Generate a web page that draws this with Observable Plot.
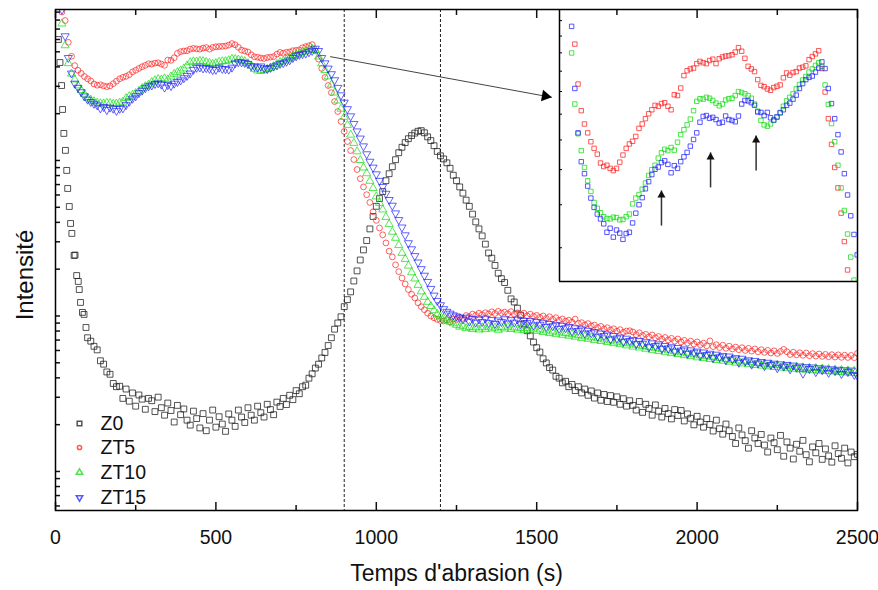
<!DOCTYPE html>
<html><head><meta charset="utf-8">
<script src="https://cdn.jsdelivr.net/npm/d3@7"></script>
<script src="https://cdn.jsdelivr.net/npm/@observablehq/plot@0.6"></script>
<style>
body{margin:0;background:#fff;}
#wrap{position:relative;width:878px;height:590px;}
#inset{position:absolute;left:559px;top:9px;width:298px;height:272px;}
</style></head><body><div id="wrap"><div id="main"></div><div id="inset"></div></div>
<script>
// ---------- data (log10 of intensity) ----------
const seriesNames = ["Z0", "ZT5", "ZT10", "ZT15"];
const seriesColors = ["#1a1a1a", "#ff2020", "#10dd10", "#2020ff"];
const seriesSymbols = ["square", "circle", "triangle", "triangle"];
const seriesRotate = [0, 0, 0, 180];

const tGridZT = d3.range(20, 2501, 10);   // sampling times (s)
const tGridZ0 = d3.range(100, 2501, 10);

const z0EarlyT = [9, 14, 19, 22, 26, 31, 35, 38, 43, 47, 51, 58, 61, 66, 71, 74, 78, 84, 89, 95];
const z0EarlyLogI = [3.778, 3.630, 3.482, 3.328, 3.174, 3.065, 2.936, 2.820, 2.704, 2.595, 2.531, 2.389, 2.392, 2.260, 2.222, 2.170, 2.087, 2.023, 2.010, 1.926];

const z0LogI = [
1.860,1.838,1.805,1.782,1.712,1.690,1.640,1.625,1.566,1.545,
1.548,1.470,1.530,1.452,1.505,1.420,1.492,1.465,1.400,1.470,
1.455,1.385,1.478,1.410,1.362,1.440,1.392,1.318,1.425,1.365,
1.402,1.330,1.298,1.388,1.340,1.280,1.372,1.262,1.330,1.395,
1.285,1.352,1.305,1.258,1.370,1.330,1.290,1.395,1.350,1.315,
1.410,1.362,1.330,1.420,1.378,1.350,1.432,1.398,1.365,1.446,
1.418,1.470,1.430,1.490,1.462,1.520,1.500,1.545,1.555,1.600,
1.628,1.665,1.690,1.730,1.765,1.810,1.860,1.915,1.955,1.995,
2.060,2.105,2.155,2.225,2.290,2.360,2.425,2.485,2.560,2.640,
2.705,2.755,2.800,2.870,2.915,2.960,3.005,3.050,3.085,3.115,
3.140,3.160,3.176,3.188,3.192,3.178,3.152,3.128,3.095,3.058,
3.030,3.010,2.985,2.950,2.905,2.870,2.830,2.790,2.745,2.705,
2.655,2.605,2.560,2.515,2.462,2.405,2.372,2.325,2.275,2.240,
2.215,2.165,2.110,2.090,2.050,2.005,1.950,1.905,1.872,1.832,
1.796,1.768,1.725,1.698,1.668,1.652,1.612,1.600,1.570,1.580,
1.545,1.560,1.520,1.545,1.505,1.530,1.490,1.518,1.472,1.505,
1.458,1.495,1.450,1.488,1.445,1.480,1.432,1.468,1.420,1.455,
1.425,1.395,1.450,1.380,1.432,1.405,1.362,1.428,1.388,1.350,
1.405,1.372,1.338,1.398,1.360,1.392,1.325,1.370,1.342,1.300,
1.355,1.318,1.285,1.340,1.302,1.260,1.330,1.275,1.240,1.305,
1.262,1.225,1.180,1.280,1.235,1.198,1.150,1.262,1.215,1.180,
1.238,1.170,1.125,1.215,1.185,1.140,1.232,1.098,1.190,1.150,
1.080,1.175,1.130,1.200,1.108,1.062,1.158,1.120,1.180,1.078,
1.145,1.100,1.060,1.165,1.115,1.085,1.150,1.055,1.125,1.095,
1.110];

const zt5LogI = [
3.955,3.900,3.760,3.670,3.610,3.580,3.560,3.540,3.525,3.512,
3.492,3.484,3.487,3.480,3.475,3.480,3.494,3.510,3.525,3.535,
3.541,3.552,3.570,3.580,3.592,3.603,3.612,3.622,3.620,3.626,
3.628,3.620,3.612,3.646,3.644,3.661,3.689,3.700,3.704,3.706,
3.716,3.721,3.718,3.716,3.723,3.726,3.716,3.727,3.731,3.733,
3.734,3.736,3.742,3.752,3.744,3.728,3.710,3.704,3.698,3.680,
3.667,3.664,3.659,3.656,3.662,3.665,3.668,3.684,3.695,3.690,
3.696,3.698,3.706,3.708,3.711,3.725,3.732,3.738,3.745,3.705,
3.652,3.592,3.534,3.482,3.436,3.379,3.315,3.251,3.187,3.122,
3.064,3.006,2.942,2.883,2.830,2.780,2.730,2.670,2.615,2.566,
2.522,2.470,2.417,2.380,2.329,2.285,2.244,2.206,2.170,2.140,
2.116,2.085,2.060,2.040,2.018,2.000,1.988,1.978,1.971,1.968,
1.975,1.962,1.981,1.978,1.992,1.985,2.003,1.996,2.012,2.004,
2.018,2.008,2.021,2.013,2.027,2.016,2.030,2.019,2.025,2.014,
2.028,2.011,2.020,2.006,2.018,2.001,2.012,1.998,2.004,1.991,
2.000,1.984,1.995,1.978,1.989,1.972,1.981,1.967,1.973,1.960,
1.980,1.952,1.957,1.942,1.951,1.936,1.942,1.925,1.933,1.916,
1.925,1.910,1.918,1.902,1.912,1.895,1.903,1.905,1.897,1.880,
1.892,1.874,1.882,1.866,1.878,1.860,1.868,1.851,1.862,1.846,
1.856,1.838,1.852,1.833,1.843,1.826,1.838,1.820,1.833,1.815,
1.825,1.808,1.840,1.803,1.815,1.797,1.812,1.792,1.806,1.788,
1.800,1.783,1.796,1.778,1.792,1.774,1.788,1.770,1.783,1.766,
1.779,1.762,1.776,1.759,1.772,1.785,1.770,1.752,1.767,1.750,
1.763,1.747,1.762,1.744,1.758,1.742,1.756,1.740,1.753,1.738,
1.751,1.736,1.750,1.734,1.748,1.733,1.746,1.732,1.760];

const zt10LogI = [
3.880,3.740,3.625,3.558,3.520,3.482,3.452,3.428,3.403,3.390,
3.380,3.371,3.367,3.366,3.370,3.369,3.364,3.365,3.371,3.377,
3.400,3.413,3.421,3.433,3.447,3.464,3.477,3.487,3.503,3.515,
3.523,3.520,3.527,3.521,3.539,3.556,3.567,3.578,3.591,3.610,
3.631,3.637,3.636,3.640,3.638,3.633,3.627,3.621,3.625,3.634,
3.637,3.638,3.644,3.653,3.651,3.648,3.644,3.638,3.625,3.609,
3.588,3.578,3.575,3.580,3.588,3.595,3.606,3.620,3.632,3.640,
3.648,3.659,3.669,3.679,3.687,3.697,3.704,3.712,3.718,3.710,
3.668,3.624,3.581,3.540,3.487,3.436,3.385,3.332,3.280,3.228,
3.165,3.112,3.058,3.002,2.954,2.917,2.868,2.822,2.768,2.726,
2.684,2.636,2.590,2.541,2.502,2.455,2.405,2.366,2.323,2.280,
2.240,2.199,2.157,2.122,2.090,2.063,2.036,2.012,1.997,1.984,
1.972,1.962,1.952,1.942,1.930,1.936,1.921,1.928,1.915,1.925,
1.912,1.926,1.914,1.930,1.918,1.924,1.910,1.927,1.918,1.930,
1.915,1.925,1.911,1.922,1.908,1.920,1.905,1.918,1.903,1.912,
1.896,1.906,1.889,1.899,1.884,1.893,1.878,1.889,1.872,1.882,
1.866,1.876,1.858,1.868,1.852,1.862,1.845,1.855,1.838,1.848,
1.831,1.842,1.824,1.834,1.818,1.828,1.810,1.822,1.802,1.814,
1.796,1.806,1.788,1.799,1.781,1.792,1.774,1.786,1.766,1.778,
1.760,1.771,1.754,1.765,1.747,1.758,1.741,1.752,1.733,1.746,
1.728,1.740,1.722,1.734,1.716,1.728,1.711,1.722,1.705,1.717,
1.699,1.712,1.694,1.706,1.689,1.701,1.684,1.696,1.680,1.692,
1.675,1.688,1.671,1.684,1.667,1.680,1.663,1.676,1.660,1.672,
1.656,1.669,1.653,1.666,1.650,1.664,1.647,1.661,1.645,1.658,
1.642,1.655,1.639,1.652,1.636,1.649,1.633,1.646,1.630];

const zt15LogI = [
3.970,3.800,3.660,3.560,3.495,3.468,3.440,3.413,3.392,3.377,
3.366,3.355,3.336,3.345,3.325,3.341,3.334,3.320,3.333,3.336,
3.357,3.379,3.398,3.414,3.434,3.450,3.466,3.478,3.483,3.493,
3.497,3.489,3.470,3.486,3.480,3.495,3.506,3.516,3.530,3.545,
3.560,3.584,3.597,3.599,3.593,3.595,3.590,3.582,3.584,3.598,
3.590,3.588,3.585,3.598,3.625,3.633,3.632,3.628,3.622,3.607,
3.606,3.599,3.606,3.594,3.589,3.596,3.605,3.612,3.622,3.627,
3.636,3.645,3.660,3.671,3.680,3.685,3.688,3.697,3.706,3.720,
3.705,3.660,3.626,3.592,3.556,3.517,3.468,3.420,3.373,3.331,
3.285,3.236,3.188,3.142,3.092,3.041,2.993,2.955,2.912,2.870,
2.831,2.787,2.747,2.710,2.661,2.618,2.570,2.520,2.469,2.430,
2.386,2.345,2.302,2.260,2.220,2.175,2.132,2.098,2.070,2.045,
2.028,2.016,2.005,1.998,1.990,1.978,1.990,1.965,1.982,1.958,
1.978,1.962,1.984,1.955,1.975,1.950,1.972,1.962,1.980,1.952,
1.974,1.958,1.978,1.948,1.970,1.955,1.968,1.940,1.962,1.945,
1.958,1.930,1.950,1.935,1.942,1.918,1.938,1.922,1.930,1.902,
1.922,1.905,1.915,1.888,1.906,1.890,1.898,1.868,1.888,1.872,
1.882,1.850,1.872,1.856,1.862,1.835,1.855,1.840,1.846,1.820,
1.840,1.822,1.832,1.800,1.825,1.808,1.818,1.790,1.808,1.792,
1.800,1.772,1.795,1.778,1.786,1.758,1.780,1.765,1.772,1.745,
1.766,1.750,1.758,1.730,1.752,1.736,1.744,1.716,1.740,1.722,
1.730,1.700,1.726,1.708,1.716,1.688,1.712,1.696,1.705,1.678,
1.700,1.686,1.694,1.665,1.690,1.676,1.686,1.658,1.682,1.668,
1.676,1.630,1.672,1.660,1.670,1.640,1.665,1.652,1.662,1.635,
1.658,1.646,1.655,1.628,1.652,1.640,1.650,1.622,1.615];

// axis ticks & annotations
const xMajorTicks = [0, 500, 1000, 1500, 2000, 2500];
const xMinorTicks = [250, 750, 1250, 1750, 2250];
const xDomain = [0, 2500];
const yLogDomain = [0.749, 3.971];
const dashedTimes = [900, 1200];
const zoomArrow = [{t1: 856, e1: 3.668, t2: 1547, e2: 3.406}];
const insetXDomain = [-7.8, 921];
const insetYLogDomain = [3.225, 3.838];
const insetMaxT = 920;
const insetArrows = [{t: 310, e1: 3.351, e2: 3.430}, {t: 463, e1: 3.437, e2: 3.516}, {t: 605, e1: 3.475, e2: 3.554}];

// ---------- table ----------
const rows = [];
function addSeries(name, times, logs) {
  logs.forEach((v, i) => { if (times[i] != null) rows.push({series: name, t: times[i], I: 10 ** v}); });
}
addSeries("Z0", z0EarlyT, z0EarlyLogI);
addSeries("Z0", tGridZ0, z0LogI);
addSeries("ZT5", tGridZT, zt5LogI);
addSeries("ZT10", tGridZT, zt10LogI);
addSeries("ZT15", tGridZT, zt15LogI);

const font = "'Liberation Sans', Arial, Helvetica, sans-serif";
const mainR = {Z0: 3.3, ZT5: 2.9, ZT10: 3.0, ZT15: 3.0};
const legendR = {Z0: 2.6, ZT5: 2.1, ZT10: 2.4, ZT15: 2.4};
const legendDy = [-87, -63, -38, -13];

const dotMarks = seriesNames.map((name, i) =>
  Plot.dot(rows.filter(d => d.series === name), {
    x: "t", y: "I", symbol: seriesSymbols[i], rotate: seriesRotate[i], r: mainR[name],
    stroke: seriesColors[i], strokeOpacity: name === "Z0" ? 0.75 : 0.7, strokeWidth: 1, fill: "none", clip: true
  }));

const legendMarks = seriesNames.flatMap((name, i) => [
  Plot.dot([name], {frameAnchor: "bottom-left", dx: 24, dy: legendDy[i], symbol: seriesSymbols[i], rotate: seriesRotate[i],
    r: legendR[name], stroke: seriesColors[i], strokeOpacity: 0.75, fill: "none"}),
  Plot.text([name], {frameAnchor: "bottom-left", dx: 45, dy: legendDy[i], textAnchor: "start", lineAnchor: "middle", fontSize: 19.5, fill: "#111"})
]);

const main = Plot.plot({
  width: 878, height: 590,
  marginLeft: 55, marginRight: 21, marginTop: 9, marginBottom: 80,
  style: {fontFamily: font, background: "transparent", color: "#111"},
  x: {domain: xDomain},
  y: {type: "log", domain: yLogDomain.map(v => 10 ** v)},
  marks: [
    Plot.ruleX(dashedTimes, {stroke: "#222", strokeDasharray: "3,2", strokeWidth: 1}),
    ...dotMarks,
    Plot.link(zoomArrow, {x1: "t1", y1: d => 10 ** d.e1, x2: "t2", y2: d => 10 ** d.e2, stroke: "#444", strokeWidth: 1}),
    Plot.dot(zoomArrow, {x: "t2", y: d => 10 ** d.e2, symbol: "triangle", r: 4.3, fill: "#000", stroke: "none", rotate: 100.4, dx: -6.5, dy: -1.2}),
    // bottom axis labels
    Plot.axisX({anchor: "bottom", ticks: xMajorTicks, tickSize: 0, tickPadding: 20, fontSize: 19.5, label: null, tickFormat: d => String(d)}),
    // inward ticks bottom/top
    Plot.axisX({anchor: "bottom", ticks: xMajorTicks, tickSize: 8, dy: -8, tickFormat: () => "", label: null, strokeWidth: 1.5}),
    Plot.axisX({anchor: "bottom", ticks: xMinorTicks, tickSize: 5, dy: -5, tickFormat: () => "", label: null, strokeWidth: 1.5}),
    Plot.axisX({anchor: "top", ticks: xMajorTicks, tickSize: 8, dy: 8, tickFormat: () => "", label: null, strokeWidth: 1.5}),
    Plot.axisX({anchor: "top", ticks: xMinorTicks, tickSize: 5, dy: 5, tickFormat: () => "", label: null, strokeWidth: 1.5}),
    Plot.axisY({anchor: "left", tickSize: 5, dx: 5, tickFormat: () => "", label: null, strokeWidth: 1.5}),
    Plot.frame({stroke: "#000", strokeWidth: 1.5}),
    ...legendMarks,
    Plot.text(["Temps d'abrasion (s)"], {frameAnchor: "bottom", dy: 63, textAnchor: "middle", lineAnchor: "middle", fontSize: 23, fill: "#111"}),
    Plot.text(["Intensité"], {frameAnchor: "left", dx: -30, dy: 15, rotate: -90, textAnchor: "middle", lineAnchor: "middle", fontSize: 24, fill: "#111"})
  ]
});
document.getElementById("main").appendChild(main);

const insetRows = rows.filter(d => d.series !== "Z0" && d.t <= insetMaxT);
const inset = Plot.plot({
  width: 298, height: 272, margin: 0,
  style: {fontFamily: font, background: "transparent", overflow: "visible"},
  x: {domain: insetXDomain, axis: null},
  y: {type: "log", domain: insetYLogDomain.map(v => 10 ** v)},
  marks: [
    ...seriesNames.slice(1).map((name, j) =>
      Plot.dot(insetRows.filter(d => d.series === name), {
        x: "t", y: "I", symbol: "square", r: 2.5, stroke: seriesColors[j + 1], strokeOpacity: 0.75, strokeWidth: 1, fill: "none", clip: true
      })),
    Plot.axisY({anchor: "left", ticks: 12, tickSize: 3, dx: 3, tickFormat: () => "", label: null}),
    Plot.ruleX([insetXDomain[0]], {stroke: "#000", strokeWidth: 1.5}),
    Plot.ruleY([10 ** insetYLogDomain[0]], {stroke: "#000", strokeWidth: 1.5}),
    Plot.link(insetArrows, {x1: "t", x2: "t", y1: d => 10 ** d.e1, y2: d => 10 ** d.e2, stroke: "#333", strokeWidth: 1.5}),
    Plot.dot(insetArrows, {x: "t", y: d => 10 ** d.e2, symbol: "triangle", r: 3, fill: "#111", stroke: "none", dy: 4.7})
  ]
});
document.getElementById("inset").appendChild(inset);
</script></body></html>
